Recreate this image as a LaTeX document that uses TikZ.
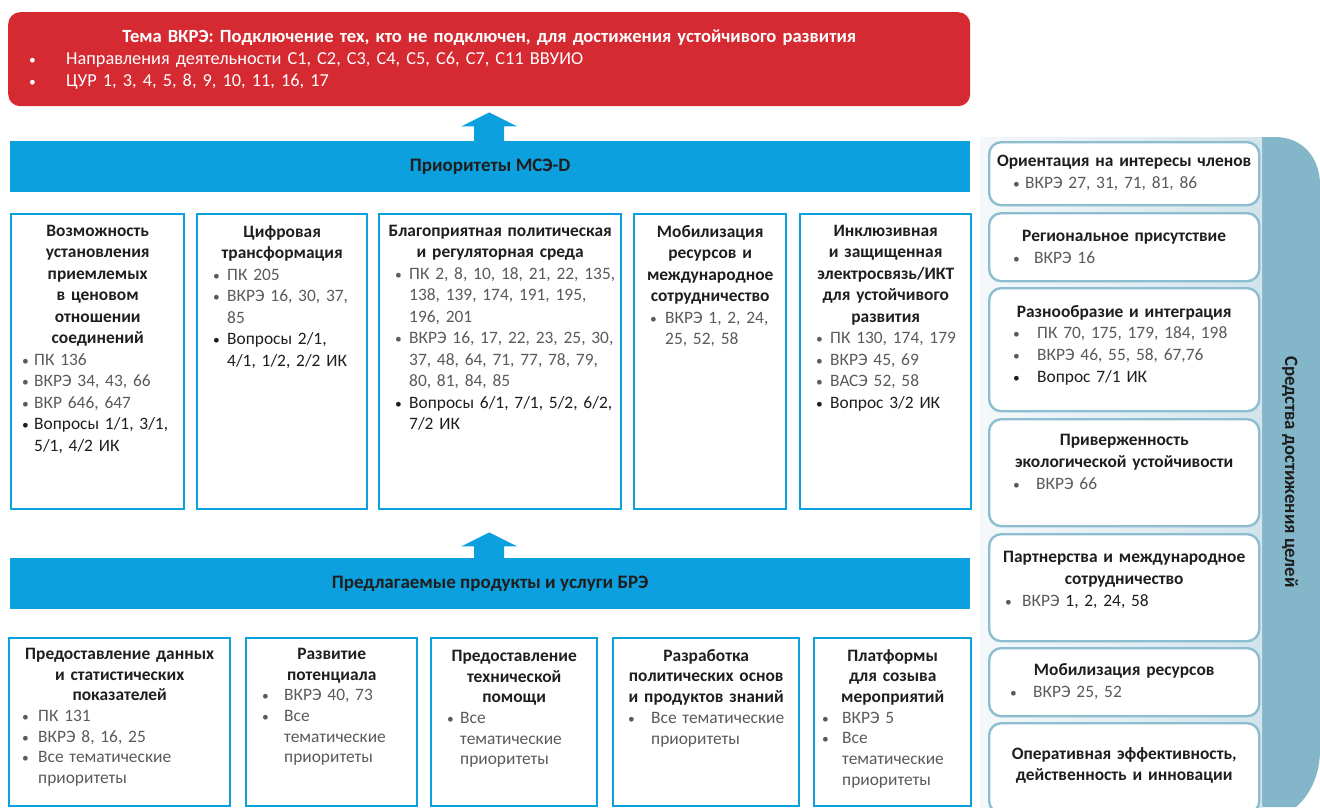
\documentclass[tikz,border=0pt]{standalone}
\usepackage{fontspec}
\setmainfont{Carlito}
\usetikzlibrary{positioning}

\definecolor{itured}{HTML}{D52A32}
\definecolor{itublue}{HTML}{0CA0DF}
\definecolor{panelblue}{HTML}{84B6CA}
\definecolor{panellight}{HTML}{F4F8FA}
\definecolor{rborder}{HTML}{8DBDD0}
\definecolor{txtblack}{HTML}{1E1E1E}
\definecolor{txtgrey}{HTML}{5A5A5A}

\newlength{\bulind}
\setlength{\bulind}{12pt}
% bullet item: optional left skip, then text
\newcommand{\itm}[2][0pt]{\par\noindent\hangindent=\dimexpr#1+\bulind\relax\hangafter=1\hspace*{#1}\makebox[\bulind][l]{\fontsize{13.5}{13.5}\selectfont\textbullet}#2\par}
\newcommand{\itmg}[2][0pt]{{\color{txtgrey}\itm[#1]{#2}}}
\newcommand{\hdr}[1]{{\centering\bfseries\noindent #1\par}}

\begin{document}
\begin{tikzpicture}[x=1pt,y=-1pt,
	every node/.style={inner sep=0pt,text=txtblack},
	tema/.style={fill=itured,rounded corners=12pt,anchor=north west,text width=920pt,inner xsep=21pt,
		minimum width=962pt,minimum height=94pt,align=left,text=white,font=\fontsize{18.3}{22}\selectfont},
	bar/.style={fill=itublue,anchor=north west,minimum width=960pt,minimum height=51pt,font=\fontsize{19}{20}\selectfont\bfseries},
	pbox/.style={draw=itublue,line width=2.4pt,anchor=north west},
	ptext/.style={anchor=north,align=left,font=\fontsize{17.4}{21.5}\selectfont},
	btext/.style={anchor=north,align=left,font=\fontsize{17.4}{20.7}\selectfont},
	rbox/.style={draw=rborder,line width=2.4pt,fill=white,rounded corners=12pt,anchor=north west,minimum width=270pt},
	rtext/.style={anchor=north,align=left,text width=262pt,font=\fontsize{17.4}{21.8}\selectfont},
	]
\useasboundingbox (0,0) rectangle (1320,807);

% theme
\node[tema,minimum height=94pt] (tema) at (8,12) {{\fontsize{18.6}{22}\selectfont\hdr{Тема ВКРЭ: Подключение тех, кто не подключен, для достижения устойчивого развития}}
	\setlength{\bulind}{37pt}\itm{Направления деятельности C1, C2, C3, C4, C5, C6, C7, C11 ВВУИО}
	\itm{ЦУР 1, 3, 4, 5, 8, 9, 10, 11, 16, 17}};

% priorities bar and arrow
\node[bar] (prio) at (10,141) {Приоритеты МСЭ-D};
\coordinate (a1) at ([yshift=-6pt]tema.south);
\fill[itublue] (a1) -- ++(28,14) -- ++(-13,0) -- ++(0,17) -- ++(-30,0) -- ++(0,-17) -- ++(-13,0) -- cycle;

% priority boxes
\node[pbox,minimum width=173pt,minimum height=295pt] (m1) at (10,213) {};
\node[ptext,text width=157pt] (m1t) at ([yshift=-12pt]m1.north) {\hdr{Возможность\\установления\\приемлемых\\в ценовом\\отношении\\соединений}
	\setlength{\bulind}{12pt}\itmg[3pt]{ПК 136}\itmg[3pt]{ВКРЭ 34, 43, 66}\itmg[3pt]{ВКР 646, 647}
	\itm[3pt]{Вопросы 1/1, 3/1,\newline 5/1, 4/2 ИК}};
\node[pbox,minimum width=170pt,minimum height=295pt] (m2) at (196,213) {};
\node[ptext,text width=154pt] (m2t) at ([yshift=-12pt]m2.north) {\hdr{Цифровая\\трансформация}
	\setlength{\bulind}{14pt}\itmg[8pt]{ПК 205}\itmg[8pt]{ВКРЭ 16, 30, 37,\newline 85}
	\itm[8pt]{Вопросы 2/1,\newline 4/1, 1/2, 2/2 ИК}};
\node[pbox,minimum width=242pt,minimum height=295pt] (m3) at (378,213) {};
\node[ptext,text width=240pt] (m3t) at ([yshift=-12pt]m3.north) {\hdr{Благоприятная политическая\\и регуляторная среда}
	\setlength{\bulind}{14pt}\itmg[15pt]{ПК 2, 8, 10, 18, 21, 22, 135,\newline 138, 139, 174, 191, 195,\newline 196, 201}
	\itmg[15pt]{ВКРЭ 16, 17, 22, 23, 25, 30,\newline 37, 48, 64, 71, 77, 78, 79,\newline 80, 81, 84, 85}
	\itm[15pt]{Вопросы 6/1, 7/1, 5/2, 6/2,\newline 7/2 ИК}};
\node[pbox,minimum width=152pt,minimum height=295pt] (m4) at (633,213) {};
\node[ptext,text width=144pt] (m4t) at ([yshift=-12pt]m4.north) {\hdr{Мобилизация\\ресурсов и\\международное\\сотрудничество}
	\setlength{\bulind}{15pt}\itmg[12pt]{ВКРЭ 1, 2, 24,\newline 25, 52, 58}};
\node[pbox,minimum width=171pt,minimum height=295pt] (m5) at (799,213) {};
\node[ptext,text width=163pt] (m5t) at ([yshift=-12pt]m5.north) {\hdr{Инклюзивная\\и защищенная\\электросвязь/ИКТ\\для устойчивого\\развития}
	\setlength{\bulind}{14pt}\itmg[12pt]{ПК 130, 174, 179}\itmg[12pt]{ВКРЭ 45, 69}\itmg[12pt]{ВАСЭ 52, 58}
	\itm[12pt]{Вопрос 3/2 ИК}};

% products bar and arrow
\node[bar] (prod) at (10,558) {Предлагаемые продукты и услуги БРЭ};
\coordinate (a2) at ([yshift=-22pt]m3.south -| tema.south);
\fill[itublue] (a2) -- ++(28,14) -- ++(-13,0) -- ++(0,15) -- ++(-30,0) -- ++(0,-15) -- ++(-13,0) -- cycle;

% product boxes
\node[pbox,minimum width=221pt,minimum height=168pt] (b1) at (8,637) {};
\node[btext,text width=205pt] (b1t) at ([yshift=-11pt]b1.north) {\hdr{Предоставление данных\\и статистических\\показателей}
	\setlength{\bulind}{16pt}\itmg[5pt]{ПК 131}\itmg[5pt]{ВКРЭ 8, 16, 25}\itmg[5pt]{Все тематические\newline приоритеты}};
\node[pbox,minimum width=171pt,minimum height=168pt] (b2) at (245,637) {};
\node[btext,text width=161pt] (b2t) at ([yshift=-11pt]b2.north) {\hdr{Развитие\\потенциала}
	\setlength{\bulind}{22pt}\itmg[11pt]{ВКРЭ 40, 73}\itmg[11pt]{Все\newline тематические\newline приоритеты}};
\node[pbox,minimum width=166pt,minimum height=168pt] (b3) at (430,637) {};
\node[btext,text width=156pt] (b3t) at ([yshift=-13pt]b3.north) {\hdr{Предоставление\\технической\\помощи}
	\setlength{\bulind}{13pt}\itmg[11pt]{Все\newline тематические\newline приоритеты}};
\node[pbox,minimum width=186pt,minimum height=168pt] (b4) at (612,637) {};
\node[btext,text width=176pt] (b4t) at ([yshift=-12pt]b4.north) {\hdr{Разработка\\политических основ\\и продуктов знаний}
	\setlength{\bulind}{23pt}\itmg[10pt]{Все тематические\newline приоритеты}};
\node[pbox,minimum width=157pt,minimum height=168pt] (b5) at (813,637) {};
\node[btext,text width=149pt] (b5t) at ([yshift=-12pt]b5.north) {\hdr{Платформы\\для созыва\\мероприятий}
	\setlength{\bulind}{20pt}\itmg[4pt]{ВКРЭ 5}\itmg[4pt]{Все\newline тематические\newline приоритеты}};

% enablers panel
\fill[panelblue] (980,137) -- (1275,137) .. controls (1302,137) and (1320,157) .. (1320,185)
	-- (1320,750) .. controls (1320,775) and (1310,795) .. (1296,807) -- (980,807) -- cycle;
\fill[left color=panellight,right color=panellight!70!panelblue] (980,137) rectangle (1262,807);
\node[rotate=-90,font=\fontsize{18.8}{20}\selectfont\bfseries] (enab) at (1290,472) {Средства достижения целей};

\node[rbox,minimum height=63pt] (r1) at (988,141) {};
\node[rtext] (r1t) at ([yshift=-14pt]r1.north) {\hdr{Ориентация на интересы членов}
	\itmg[20pt]{ВКРЭ 27, 31, 71, 81, 86}};
\node[rbox,minimum height=68pt] (r2) at (988,212) {};
\node[rtext] (r2t) at ([yshift=-18pt]r2.north) {\hdr{Региональное присутствие}
	\setlength{\bulind}{21pt}\itmg[20pt]{ВКРЭ 16}};
\node[rbox,minimum height=123pt] (r3) at (988,287) {};
\node[rtext] (r3t) at ([yshift=-18pt]r3.north) {\hdr{Разнообразие и интеграция}
	\setlength{\bulind}{24pt}\itmg[20pt]{ПК 70, 175, 179, 184, 198}\itmg[20pt]{ВКРЭ 46, 55, 58, 67,76}\itm[20pt]{Вопрос 7/1 ИК}};
\node[rbox,minimum height=107pt] (r4) at (988,418) {};
\node[rtext] (r4t) at ([yshift=-16pt]r4.north) {\hdr{Приверженность\\экологической устойчивости}
	\setlength{\bulind}{23pt}\itmg[20pt]{ВКРЭ 66}};
\node[rbox,minimum height=107pt] (r5) at (988,533) {};
\node[rtext] (r5t) at ([yshift=-18pt]r5.north) {\hdr{Партнерства и международное\\сотрудничество}
	\setlength{\bulind}{17pt}\itmg[12pt]{ВКРЭ \textcolor{txtblack}{1, 2, 24, 58}}};
\node[rbox,minimum height=68pt] (r6) at (988,647) {};
\node[rtext] (r6t) at ([yshift=-16pt]r6.north) {\hdr{Мобилизация ресурсов}
	\setlength{\bulind}{23pt}\itmg[17pt]{ВКРЭ 25, 52}};
\node[rbox,minimum height=90pt] (r7) at (988,722) {};
\node[rtext] (r7t) at ([yshift=-25pt]r7.north) {\hdr{Оперативная эффективность,\\действенность и инновации}};
\end{tikzpicture}
\end{document}
